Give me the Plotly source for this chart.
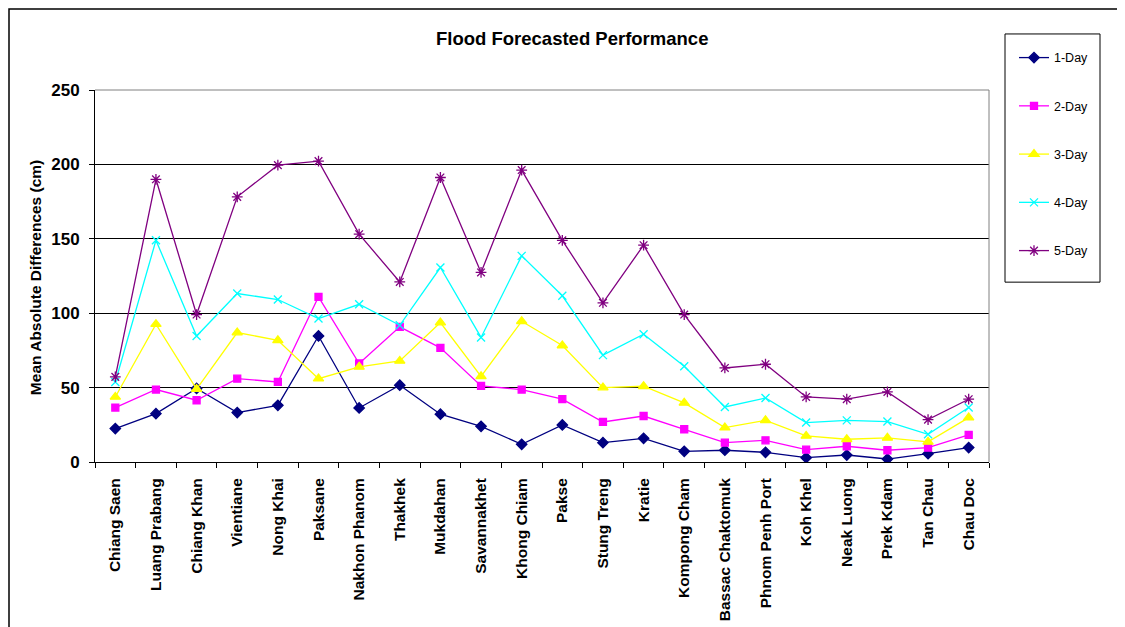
import plotly.graph_objects as go

stations = ["Chiang Saen", "Luang Prabang", "Chiang Khan", "Vientiane", "Nong Khai", "Paksane",
            "Nakhon Phanom", "Thakhek", "Mukdahan", "Savannakhet", "Khong Chiam", "Pakse",
            "Stung Treng", "Kratie", "Kompong Cham", "Bassac Chaktomuk", "Phnom Penh Port",
            "Koh Khel", "Neak Luong", "Prek Kdam", "Tan Chau", "Chau Doc"]

day1 = [22.5, 32.5, 49.4, 33.2, 38.1, 84.7, 36.3, 51.6, 32.1, 24.0, 11.9, 24.9, 13.0, 15.9, 7.2, 7.9, 6.5, 2.9, 4.7, 2.0, 5.6, 9.7]
day2 = [36.6, 48.7, 41.5, 56.0, 53.8, 111.0, 66.2, 90.8, 76.7, 51.1, 48.7, 42.2, 26.9, 30.9, 22.0, 13.0, 14.6, 8.3, 10.6, 7.9, 9.7, 18.2]
day3 = [43.7, 92.6, 49.0, 87.0, 81.8, 56.0, 63.9, 67.9, 93.7, 57.6, 94.6, 78.3, 50.0, 50.9, 39.7, 23.1, 28.0, 17.5, 15.3, 16.2, 13.5, 29.8]
day4 = [53.8, 149.0, 84.7, 113.2, 109.2, 96.4, 106.0, 91.9, 130.7, 83.7, 138.5, 111.7, 71.8, 85.9, 64.4, 37.0, 43.0, 26.5, 28.0, 27.2, 18.6, 36.6]
day5 = [57.2, 190.0, 99.1, 178.2, 199.5, 202.2, 153.1, 121.0, 191.2, 127.4, 196.2, 149.0, 107.0, 145.7, 99.1, 63.2, 65.7, 43.7, 42.2, 47.1, 28.5, 42.2]

series_names = ["1-Day", "2-Day", "3-Day", "4-Day", "5-Day"]
y_ticks = [0, 50, 100, 150, 200, 250]

styles = [
    dict(color="#000080", symbol="diamond", size=8, lw=1.3),
    dict(color="#FF00FF", symbol="square", size=7, lw=1.3),
    dict(color="#FFFF00", symbol="triangle-up", size=9, lw=1.3),
    dict(color="#00FFFF", symbol="x-thin-open", size=8, lw=1.3),
    dict(color="#800080", symbol="asterisk-open", size=9, lw=1.3),
]

OFF = 8  # browser page offset
PAGE_W, PAGE_H = 1125, 627
W, H = PAGE_W - OFF, PAGE_H - OFF
# plot area in page pixels
PL, PR, PT, PB = 95, 989, 90, 461.7
L, T = PL - OFF, PT - OFF
R, B = W - (PR - OFF), H - (PB - OFF)
pw, ph = W - L - R, H - T - B

def px(x):
    return (x - PL) / pw

def py(y):
    return (PB - y) / ph

fig = go.Figure()
for i, (name, vals) in enumerate(zip(series_names, [day1, day2, day3, day4, day5])):
    s = styles[i]
    fig.add_trace(go.Scatter(
        x=stations, y=vals, name=name, mode="lines+markers", legendgroup=name,
        line=dict(color=s["color"], width=s["lw"]),
        marker=dict(symbol=s["symbol"], size=s["size"], color=s["color"],
                    line=dict(color=s["color"], width=1.3)),
    ))

font_family = "Liberation Sans, Arial, sans-serif"

fig.update_layout(
    width=W, height=H,
    margin=dict(l=L, r=R, t=T, b=B, autoexpand=False),
    paper_bgcolor="white", plot_bgcolor="white",
    font=dict(family=font_family, color="black"),
    showlegend=True,
    legend=dict(
        x=px(1014), y=py(43), xanchor="left", yanchor="top",
        borderwidth=0, bgcolor="rgba(0,0,0,0)",
        font=dict(size=12.5, family=font_family, color="black"),
        tracegroupgap=29, itemwidth=30,
    ),
    xaxis=dict(
        type="category", tickson="boundaries", ticks="outside", ticklen=5, tickcolor="black",
        tickangle=-90, showline=True, linecolor="black", linewidth=1, showgrid=False,
        ticklabelstandoff=9,
        tickfont=dict(size=15.5, family=font_family, color="black", weight="bold"),
        range=[-0.5, len(stations) - 0.5],
    ),
    yaxis=dict(
        range=[0, 250], tickvals=y_ticks, ticks="outside", ticklen=5, tickcolor="black",
        showline=True, linecolor="black", linewidth=1, showgrid=True, gridcolor="black", gridwidth=1,
        zeroline=False, ticklabelstandoff=6,
        tickfont=dict(size=17, family=font_family, color="black", weight="bold"),
    ),
)

# plot area top/right border (gray)
fig.add_shape(type="line", xref="paper", yref="paper", x0=0, x1=1, y0=1, y1=1,
              line=dict(color="#808080", width=1), layer="above")
fig.add_shape(type="line", xref="paper", yref="paper", x0=1, x1=1, y0=0, y1=1,
              line=dict(color="#808080", width=1), layer="above")
# outer chart border
fig.add_shape(type="rect", xref="paper", yref="paper",
              x0=px(9), x1=px(1140), y0=py(9), y1=py(650),
              line=dict(color="black", width=1.5), layer="above")
# legend box
fig.add_shape(type="rect", xref="paper", yref="paper",
              x0=px(1005), x1=px(1100), y0=py(34), y1=py(282),
              line=dict(color="black", width=1), layer="above")

fig.add_annotation(text="<b>Flood Forecasted Performance</b>", xref="paper", yref="paper",
                   x=px(572), y=py(39), xanchor="center", yanchor="middle", showarrow=False,
                   font=dict(size=18.5, family=font_family, color="black"))
fig.add_annotation(text="<b>Mean Absolute Differences (cm)</b>", xref="paper", yref="paper",
                   x=px(35), y=py(278), xanchor="center", yanchor="middle", showarrow=False,
                   textangle=-90, font=dict(size=15.5, family=font_family, color="black"))

fig.write_html("out.html")
